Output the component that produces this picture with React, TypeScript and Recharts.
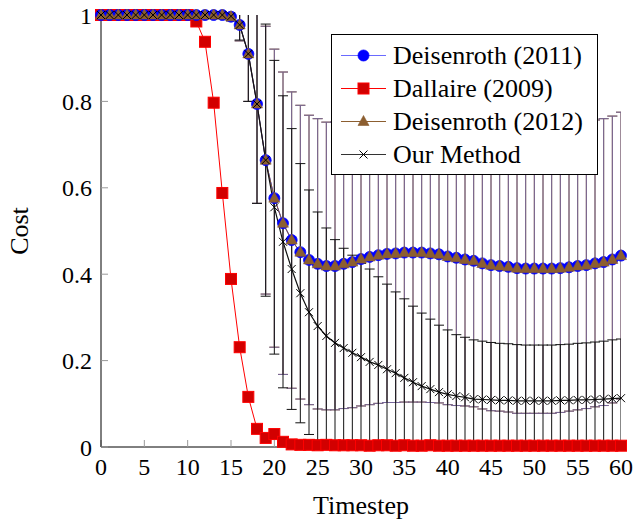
import { LineChart, Line, XAxis, YAxis, ErrorBar, Legend } from 'recharts';

const timesteps = Array.from({ length: 61 }, (_, i) => i);

const deisenroth2011 = [
  1, 1, 1, 1, 1, 1, 1, 1, 1, 1, 1, 1, 1, 1, 1,
  0.996, 0.977, 0.91, 0.794, 0.664, 0.576, 0.518, 0.479, 0.451, 0.433,
  0.424, 0.419, 0.419, 0.424, 0.428, 0.435, 0.44, 0.444, 0.447, 0.448,
  0.45, 0.45, 0.45, 0.448, 0.446, 0.441, 0.438, 0.434, 0.431, 0.425,
  0.421, 0.419, 0.417, 0.414, 0.413, 0.413, 0.413, 0.413, 0.414, 0.416,
  0.419, 0.421, 0.425, 0.428, 0.434, 0.443,
];

const deisenroth2012 = [
  1, 1, 1, 1, 1, 1, 1, 1, 1, 1, 1, 1, 1, 1, 1,
  0.996, 0.977, 0.91, 0.794, 0.664, 0.576, 0.518, 0.479, 0.451, 0.433,
  0.424, 0.419, 0.419, 0.424, 0.428, 0.435, 0.44, 0.444, 0.447, 0.448,
  0.45, 0.45, 0.45, 0.448, 0.446, 0.441, 0.438, 0.434, 0.431, 0.425,
  0.421, 0.419, 0.417, 0.414, 0.413, 0.413, 0.413, 0.413, 0.414, 0.416,
  0.419, 0.421, 0.425, 0.428, 0.434, 0.443,
];

const deisenrothStd = [
  0, 0, 0, 0, 0, 0, 0, 0, 0, 0, 0, 0, 0, 0, 0,
  0.01, 0.037, 0.11, 0.23, 0.31, 0.345, 0.35, 0.343, 0.34, 0.335,
  0.336, 0.333, 0.333, 0.335, 0.337, 0.34, 0.342, 0.343, 0.344, 0.345,
  0.346, 0.346, 0.346, 0.345, 0.344, 0.343, 0.342, 0.339, 0.338, 0.337,
  0.337, 0.336, 0.336, 0.336, 0.335, 0.335, 0.335, 0.335, 0.334, 0.333,
  0.333, 0.332, 0.332, 0.332, 0.332, 0.332,
];

const dallaire2009 = [
  1, 1, 1, 1, 1, 1, 1, 1, 1, 1, 1,
  0.985, 0.938, 0.797, 0.588, 0.389, 0.231, 0.116, 0.042, 0.021, 0.03,
  0.012, 0.006, 0.005, 0.005, 0.004, 0.005, 0.004, 0.004, 0.004, 0.004,
  0.003, 0.004, 0.004, 0.003, 0.004, 0.003, 0.003, 0.004, 0.003, 0.003,
  0.003, 0.003, 0.003, 0.003, 0.003, 0.003, 0.003, 0.003, 0.003, 0.003,
  0.003, 0.003, 0.003, 0.003, 0.003, 0.003, 0.003, 0.003, 0.003, 0.003,
];

const ourMethod = [
  1, 1, 1, 1, 1, 1, 1, 1, 1, 1, 1, 1, 1, 1, 1,
  0.997, 0.977, 0.91, 0.794, 0.664, 0.555, 0.475, 0.412, 0.356, 0.312,
  0.28, 0.257, 0.241, 0.229, 0.218, 0.208, 0.197, 0.19, 0.18, 0.171,
  0.16, 0.15, 0.141, 0.134, 0.127, 0.122, 0.118, 0.115, 0.111, 0.11,
  0.109, 0.108, 0.108, 0.107, 0.107, 0.107, 0.107, 0.107, 0.108, 0.108,
  0.109, 0.109, 0.11, 0.111, 0.112, 0.113,
];

const ourMethodStd = [
  0, 0, 0, 0, 0, 0, 0, 0, 0, 0, 0, 0, 0, 0, 0,
  0.005, 0.035, 0.11, 0.23, 0.315, 0.34, 0.338, 0.325, 0.3, 0.283,
  0.264, 0.25, 0.239, 0.231, 0.226, 0.217, 0.215, 0.204, 0.197, 0.188,
  0.183, 0.176, 0.169, 0.162, 0.155, 0.149, 0.142, 0.139, 0.137, 0.135,
  0.133, 0.132, 0.131, 0.13, 0.129, 0.129, 0.129, 0.129, 0.129, 0.13,
  0.131, 0.132, 0.133, 0.134, 0.136, 0.137,
];

const xTicks = [0, 5, 10, 15, 20, 25, 30, 35, 40, 45, 50, 55, 60];
const yTicks = [0, 0.2, 0.4, 0.6, 0.8, 1];

const seriesNames = ['Deisenroth (2011)', 'Dallaire (2009)', 'Deisenroth (2012)', 'Our Method'];

const rows = timesteps.map((t, i) => ({
  t,
  d11: deisenroth2011[i],
  d12: deisenroth2012[i],
  dal: dallaire2009[i],
  our: ourMethod[i],
  dStd: deisenrothStd[i],
  oStd: ourMethodStd[i],
}));

const FONT = '"Liberation Serif", "Times New Roman", serif';
const BLUE = '#0000ff';
const RED = '#ff0000';
const DARK_RED = '#d20000';
const BROWN = '#8c5e30';
const PURPLE = '#76669a';
const TICK_GRAY = '#999999';

// plot box, only used to clip the error bars (recharts doesn't clip them)
const PLOT = { left: 101, top: 15, width: 520, height: 432 };

function Marker({ kind, cx, cy }: { kind: string; cx: number; cy: number }) {
  if (kind === 'circle') {
    return <circle cx={cx} cy={cy} r={5.5} fill={BLUE} stroke={BLUE} strokeWidth={0.8} />;
  }
  if (kind === 'square') {
    return (
      <rect x={cx - 5.5} y={cy - 5.5} width={11} height={11} fill={DARK_RED} stroke={RED} strokeWidth={1} />
    );
  }
  if (kind === 'triangle') {
    return (
      <polygon
        points={`${cx},${cy - 6} ${cx + 5.5},${cy + 4} ${cx - 5.5},${cy + 4}`}
        fill={BROWN}
        stroke={BROWN}
        strokeWidth={0.6}
      />
    );
  }
  return (
    <path
      d={`M${cx - 4},${cy - 4}L${cx + 4},${cy + 4}M${cx - 4},${cy + 4}L${cx + 4},${cy - 4}`}
      stroke="#000"
      strokeWidth={1}
      fill="none"
    />
  );
}

const makeDot = (kind: string) => (p: any) => {
  if (p.cx == null || p.cy == null) return <g key={`${kind}-${p.index}`} />;
  return (
    <g key={`${kind}-${p.index}`}>
      <Marker kind={kind} cx={p.cx} cy={p.cy} />
    </g>
  );
};

const legendItems = [
  { name: seriesNames[0], color: '#6a6aff', kind: 'circle' },
  { name: seriesNames[1], color: RED, kind: 'square' },
  { name: seriesNames[2], color: BROWN, kind: 'triangle' },
  { name: seriesNames[3], color: '#333', kind: 'cross' },
];

const renderLegend = () => (
  <div
    style={{
      width: 267,
      height: 141,
      boxSizing: 'border-box',
      border: '1px solid #000',
      background: '#fff',
      paddingTop: 4,
      fontFamily: FONT,
      fontSize: 26,
      color: '#000',
    }}
  >
    {legendItems.map((item) => (
      <div key={item.name} style={{ display: 'flex', alignItems: 'center', height: 33 }}>
        <svg width={61} height={33} style={{ flex: 'none' }}>
          <line x1={9} x2={54} y1={16.5} y2={16.5} stroke={item.color} strokeWidth={1.2} />
          <Marker kind={item.kind} cx={31.5} cy={16.5} />
        </svg>
        <span style={{ whiteSpace: 'nowrap', lineHeight: '33px' }}>{item.name}</span>
      </div>
    ))}
  </div>
);

const noTick = () => <g />;

const fmtY = (v: number) => (v === 0 || v === 1 ? String(v) : v.toFixed(1));

const xLabel = (props: any) => {
  const vb = props.viewBox;
  return (
    <text x={vb.x + vb.width / 2} y={vb.y + 67} textAnchor="middle" fontSize={26} fontFamily={FONT} fill="#000">
      Timestep
    </text>
  );
};

const yLabel = (props: any) => {
  const vb = props.viewBox;
  const cy = vb.y + vb.height / 2;
  return (
    <text
      x={28}
      y={cy}
      transform={`rotate(-90, 28, ${cy})`}
      textAnchor="middle"
      fontSize={26}
      fontFamily={FONT}
      fill="#000"
    >
      Cost
    </text>
  );
};

export default function App() {
  return (
    <div
      style={{
        position: 'absolute',
        left: 0,
        top: 0,
        width: 634,
        height: 519,
        background: '#fff',
        fontFamily: FONT,
      }}
    >
      <style>{'.recharts-errorBars { clip-path: url(#errClip); }'}</style>
      <svg width={0} height={0} style={{ position: 'absolute' }}>
        <defs>
          <clipPath id="errClip" clipPathUnits="userSpaceOnUse">
            <rect x={PLOT.left} y={PLOT.top} width={PLOT.width} height={PLOT.height} />
          </clipPath>
        </defs>
      </svg>
      <LineChart width={634} height={519} data={rows} margin={{ top: 15, right: 13, bottom: 0, left: 0 }}>
        <XAxis
          xAxisId="b"
          dataKey="t"
          type="number"
          domain={[0, 60]}
          ticks={xTicks}
          interval={0}
          height={72}
          tickSize={-7}
          tickMargin={18}
          axisLine={{ stroke: '#000', strokeWidth: 1 }}
          tickLine={{ stroke: TICK_GRAY }}
          tick={{ fill: '#000', fontSize: 24, fontFamily: FONT }}
          label={{ content: xLabel }}
        />
        <XAxis
          xAxisId="top"
          orientation="top"
          dataKey="t"
          type="number"
          domain={[0, 60]}
          ticks={xTicks}
          interval={0}
          height={0}
          tickSize={-7}
          axisLine={{ stroke: '#000', strokeWidth: 1 }}
          tickLine={{ stroke: TICK_GRAY }}
          tick={noTick}
        />
        <YAxis
          yAxisId="main"
          type="number"
          domain={[0, 1]}
          ticks={yTicks}
          interval={0}
          width={101}
          tickSize={-7}
          tickMargin={16}
          tickFormatter={fmtY}
          axisLine={{ stroke: '#000', strokeWidth: 1 }}
          tickLine={{ stroke: TICK_GRAY }}
          tick={{ fill: '#000', fontSize: 24, fontFamily: FONT }}
          label={{ content: yLabel }}
        />
        <YAxis
          yAxisId="right"
          orientation="right"
          type="number"
          domain={[0, 1]}
          ticks={yTicks}
          interval={0}
          width={0}
          tickSize={-7}
          axisLine={{ stroke: '#000', strokeWidth: 1 }}
          tickLine={{ stroke: TICK_GRAY }}
          tick={noTick}
        />
        <YAxis yAxisId="zerr" orientation="right" type="number" domain={[0, 1]} allowDataOverflow width={0} hide />

        <Line xAxisId="b" yAxisId="zerr" dataKey="d12" stroke="none" dot={false} legendType="none" isAnimationActive={false}>
          <ErrorBar dataKey="dStd" width={5} stroke={BROWN} strokeWidth={1} />
        </Line>
        <Line xAxisId="b" yAxisId="zerr" dataKey="d11" stroke="none" dot={false} legendType="none" isAnimationActive={false}>
          <ErrorBar dataKey="dStd" width={5} stroke={PURPLE} strokeWidth={1} />
        </Line>
        <Line xAxisId="b" yAxisId="zerr" dataKey="our" stroke="none" dot={false} legendType="none" isAnimationActive={false}>
          <ErrorBar dataKey="oStd" width={5} stroke="#111" strokeWidth={1} />
        </Line>

        <Line xAxisId="b" yAxisId="main" dataKey="dal" name={seriesNames[1]} stroke={RED} strokeWidth={1} dot={makeDot('square')} isAnimationActive={false} />
        <Line xAxisId="b" yAxisId="main" dataKey="d11" name={seriesNames[0]} stroke={BLUE} strokeWidth={1} dot={makeDot('circle')} isAnimationActive={false} />
        <Line xAxisId="b" yAxisId="main" dataKey="d12" name={seriesNames[2]} stroke={BROWN} strokeWidth={1} dot={makeDot('triangle')} isAnimationActive={false} />
        <Line xAxisId="b" yAxisId="main" dataKey="our" name={seriesNames[3]} stroke="#111" strokeWidth={1.2} dot={makeDot('cross')} isAnimationActive={false} />

        <Legend
          layout="vertical"
          align="center"
          verticalAlign="middle"
          content={renderLegend}
          wrapperStyle={{ left: 331, top: 34, width: 267, height: 141 }}
        />
      </LineChart>
    </div>
  );
}
